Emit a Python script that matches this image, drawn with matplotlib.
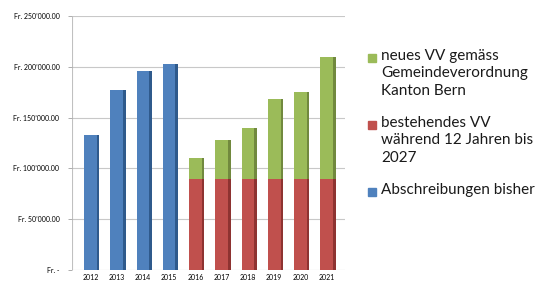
import matplotlib.pyplot as plt
import numpy as np

jahre = ["2012", "2013", "2014", "2015", "2016", "2017", "2018", "2019", "2020", "2021"]
abschreibungen_bisher = [133000, 177000, 196000, 203000, 0, 0, 0, 0, 0, 0]
bestehendes_vv = [0, 0, 0, 0, 90000, 90000, 90000, 90000, 90000, 90000]
neues_vv = [0, 0, 0, 0, 20000, 38000, 50000, 78000, 85000, 120000]

y_ticks = [0, 50000, 100000, 150000, 200000, 250000]
y_labels = ["Fr. -", "Fr. 50’000.00", "Fr. 100’000.00", "Fr. 150’000.00",
            "Fr. 200’000.00", "Fr. 250’000.00"]

legende = [
    ("neues VV gemäss\nGemeindeverordnung\nKanton Bern", "#9BBB59"),
    ("bestehendes VV\nwährend 12 Jahren bis\n2027", "#C0504D"),
    ("Abschreibungen bisher", "#4F81BD"),
]

blau = "#4F81BD"
rot = "#C0504D"
gruen = "#9BBB59"

plt.rcParams["font.family"] = ["Lato", "DejaVu Sans"]

fig = plt.figure(figsize=(5.41, 2.81), dpi=100)
ax = fig.add_axes([0.133, 0.039, 0.505, 0.904])

x = np.arange(len(jahre))
breite = 0.48
links, rechts = -0.7, len(jahre) - 0.3

ax.bar(x, abschreibungen_bisher, breite, color=blau, zorder=3)
ax.bar(x, bestehendes_vv, breite, color=rot, zorder=3)
ax.bar(x, neues_vv, breite, bottom=bestehendes_vv, color=gruen, zorder=3)

# dunkle Seitenflaeche fuer den 3D-Eindruck
seite = 0.1
ax.bar(x + breite / 2 + seite / 2, abschreibungen_bisher, seite, color="#2F5A8C", zorder=3)
ax.bar(x + breite / 2 + seite / 2, bestehendes_vv, seite, color="#8E3331", zorder=3)
ax.bar(x + breite / 2 + seite / 2, neues_vv, seite, bottom=bestehendes_vv, color="#71893E", zorder=3)

# Gitterlinien und linke Achse
ax.hlines(y_ticks, links, rechts, color="#C8C8C8", linewidth=0.8, zorder=0)
ax.vlines(links, 0, 250000, color="#C0C0C0", linewidth=0.8, zorder=1)

ax.set_ylim(0, 250000)
ax.set_xlim(links, rechts)
ax.set_yticks(y_ticks)
ax.set_yticklabels(y_labels, fontsize=5)
ax.set_xticks(x)
ax.set_xticklabels(jahre, fontsize=5)
ax.tick_params(axis="y", length=3, width=0.6, color="#A0A0A0", pad=6)
ax.tick_params(axis="x", length=0, pad=3)
for s in ax.spines.values():
    s.set_visible(False)

# Legende von Hand, Quadrat auf Hoehe der ersten Zeile
y0 = 1 - 58 / 281
for text, farbe in legende:
    zeilen = text.count("\n") + 1
    fig.patches.append(plt.Rectangle((368 / 541, y0 - 4 / 281), 8 / 541, 8 / 281,
                                     transform=fig.transFigure, color=farbe))
    fig.text(381 / 541, y0 + 9 / 281, text, fontsize=11, va="top", ha="left",
             linespacing=1.3, color="#1A1A1A")
    y0 -= (zeilen * 20 + 7) / 281

fig.savefig("out.png", dpi=100)
